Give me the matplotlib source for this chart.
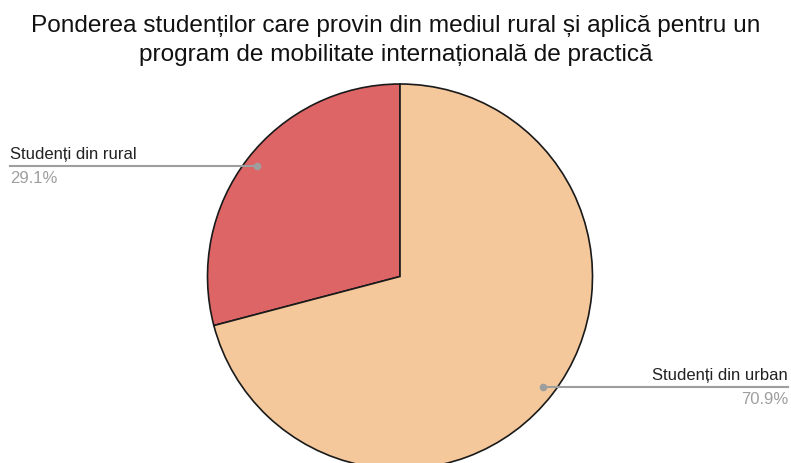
import matplotlib.pyplot as plt
import numpy as np

plt.rcParams['font.family'] = ['Liberation Sans', 'DejaVu Sans']

labels = ['Studenți din rural', 'Studenți din urban']
values = [29.1, 70.9]
colors = ['#dd6566', '#f4c89b']
title_lines = ['Ponderea studenților care provin din mediul rural și aplică pentru un',
               'program de mobilitate internațională de practică']

W, H = 791, 463
fig = plt.figure(figsize=(W / 100, H / 100), dpi=100)
ax = fig.add_axes([0, 0, 1, 1])

cx, cy, r = 400, H - 276.5, 192.5
wedges, _ = ax.pie(values, colors=colors, startangle=90, counterclock=True,
                   center=(cx, cy), radius=r,
                   wedgeprops=dict(edgecolor='#1a1a1a', linewidth=1.2))
ax.set_xlim(0, W)
ax.set_ylim(0, H)
ax.set_aspect('equal')
ax.axis('off')

# leader lines + labels
for w, lab, v in zip(wedges, labels, values):
    mid = np.deg2rad((w.theta1 + w.theta2) / 2)
    px = cx + 0.94 * r * np.cos(mid)
    py = cy + 0.94 * r * np.sin(mid)
    if px < cx:
        xe, ha, xt = 10, 'left', 10
    else:
        xe, ha, xt = 788, 'right', 788
    ax.plot([px, xe], [py, py], color='#9e9e9e', lw=1.5, zorder=3)
    ax.plot(px, py, 'o', color='#9e9e9e', ms=4.5, zorder=4)
    ax.text(xt, py + 4, lab, ha=ha, va='bottom', fontsize=12, color='#222222')
    ax.text(xt, py - 5, f'{v}%', ha=ha, va='top', fontsize=12, color='#9e9e9e')

# title baselines at ~32 px and ~61 px from top
for i, line in enumerate(title_lines):
    fig.text(0.5, 1 - (32 + 29 * i) / H, line, ha='center', va='baseline',
             fontsize=17.6, color='#111111')

fig.savefig('out.png', dpi=100)
